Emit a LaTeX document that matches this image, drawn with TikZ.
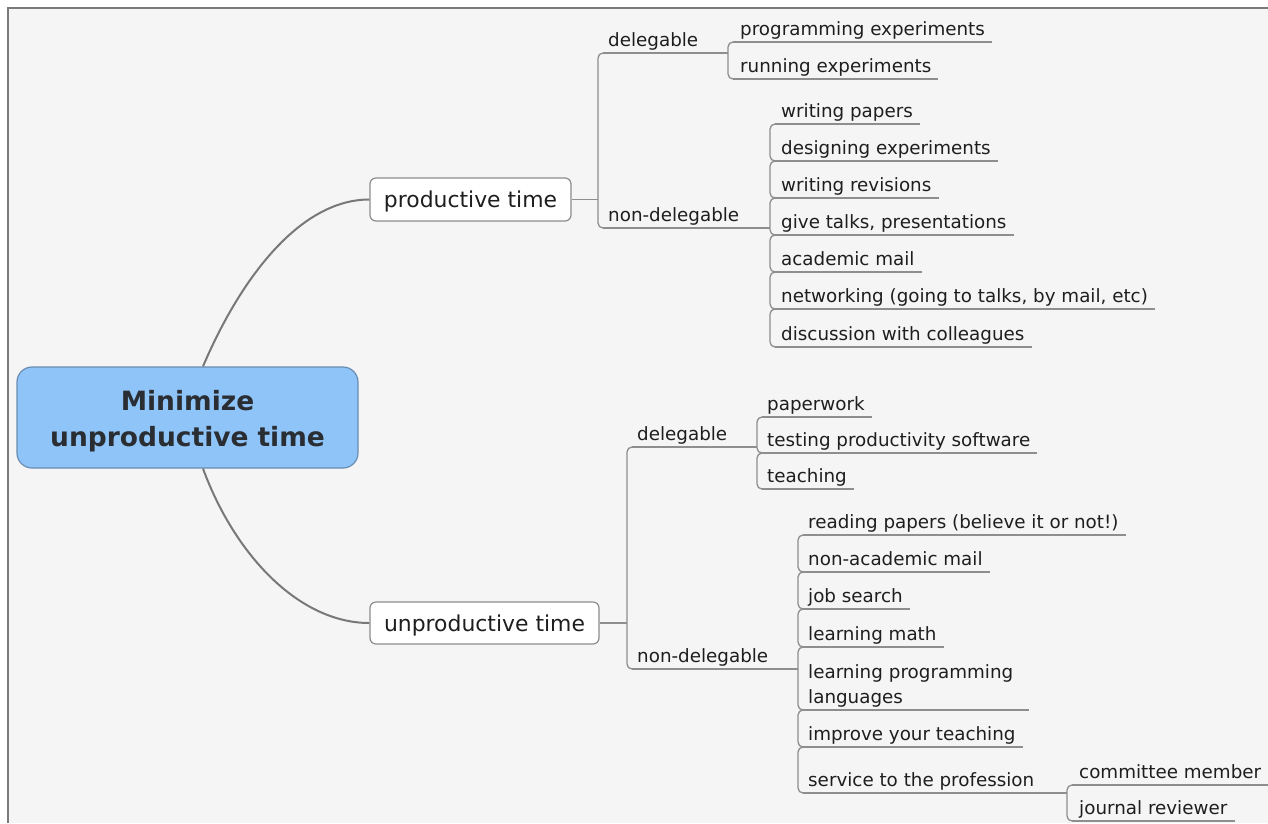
\documentclass[tikz,border=0pt]{standalone}
\usepackage{fontspec}
\setmainfont{DejaVu Sans}
\usetikzlibrary{calc}
\definecolor{bgc}{HTML}{F5F5F5}
\definecolor{framec}{HTML}{7A7A7A}
\definecolor{linec}{HTML}{8E8E8E}
\definecolor{curvec}{HTML}{787878}
\definecolor{txt}{HTML}{1E1E1E}
\definecolor{roottxt}{HTML}{2A2E33}
\definecolor{rootfill}{RGB}{143,196,249}
\definecolor{rootdraw}{RGB}{105,140,178}
\definecolor{boxdraw}{HTML}{8C8C8C}
\newcommand\mmbr[2]{\foreach \ma/\mb in {#2}{\draw[conn,rounded corners=5pt] ($(#1 |- \ma.south)+(7,0)$) -- (#1 |- \ma.south) -- (#1 |- \mb.south) -- ($(#1 |- \mb.south)+(7,0)$);}}
\newcommand\mmul[2]{\foreach \ma in {#2}{\draw[conn] ($(#1 |- \ma.south)+(5,0)$) -- ($(\ma.south east)+(7,0)$);}}
\newcommand\mmpl[3]{\draw[conn] ($(#1 |- #3.south)+(5,0)$) -- (#2 |- #3.south);}
\begin{document}
\begin{tikzpicture}[x=1pt,y=-1pt,
  leaf/.style={anchor=south west, inner sep=0pt, text=txt, font=\fontsize{18.3pt}{22pt}\selectfont, text height=14pt, text depth=6.5pt},
  topic/.style={draw=boxdraw, line width=1.2pt, fill=white, rounded corners=6pt, text=txt, font=\fontsize{21.9pt}{26pt}\selectfont, inner sep=0pt, text height=16pt, text depth=0pt},
  rootbox/.style={draw=rootdraw, fill=rootfill, line width=1.2pt, rounded corners=15pt, minimum width=341pt, minimum height=101pt, inner sep=0pt, text width=341pt, align=center, text=roottxt, font=\bfseries\fontsize{26.5pt}{36pt}\selectfont, text height=20pt, text depth=35pt},
  conn/.style={draw=linec, line width=1.3pt},
  curve/.style={draw=curvec, line width=2pt},
]
\useasboundingbox (0,0) rectangle (1268,823);
\fill[bgc] (8,8) rectangle (1268,823);
\draw[framec, line width=1.5pt] (8,823) -- (8,8) -- (1268,8);

% vertical guide coordinates
\coordinate (vP) at (598,0);
\coordinate (vPD) at (728,0);
\coordinate (vPN) at (770,0);
\coordinate (vU) at (627,0);
\coordinate (vUD) at (757,0);
\coordinate (vUN) at (798,0);
\coordinate (vS) at (1067,0);

% central and main topics
\node[rootbox] (root) at (187.5,417.5) {Minimize\\unproductive time};
\node[topic, minimum width=201pt, minimum height=43pt] (pt) at (470.5,199.5) {productive time};
\node[topic, minimum width=229pt, minimum height=42pt] (ut) at (484.5,623) {unproductive time};

% productive branch
\node[leaf] (pd) at (608,53) {delegable};
\node[leaf] (pn) at (608,228) {non-delegable};
\node[leaf] (pe) at (740,42) {programming experiments};
\node[leaf] (re) at (740,79) {running experiments};
\node[leaf] (wp) at (781,124) {writing papers};
\node[leaf] (de) at (781,161) {designing experiments};
\node[leaf] (wr) at (781,198) {writing revisions};
\node[leaf] (gt) at (781,235) {give talks, presentations};
\node[leaf] (am) at (781,272) {academic mail};
\node[leaf] (nw) at (781,309) {networking (going to talks, by mail, etc)};
\node[leaf] (dc) at (781,347) {discussion with colleagues};

% unproductive branch
\node[leaf] (ud) at (637,447) {delegable};
\node[leaf] (un) at (637,669) {non-delegable};
\node[leaf] (pw) at (767,417) {paperwork};
\node[leaf] (tp) at (767,453) {testing productivity software};
\node[leaf] (te) at (767,489) {teaching};
\node[leaf] (rp) at (808,535) {reading papers (believe it or not!)};
\node[leaf] (na) at (808,572) {non-academic mail};
\node[leaf] (js) at (808,609) {job search};
\node[leaf] (lm) at (808,647) {learning math};
\node[leaf, text width=214pt, align=left, font=\fontsize{18.3pt}{25pt}\selectfont, text depth=31.5pt] (lp) at (808,710) {learning programming\\languages};
\node[leaf] (iy) at (808,747) {improve your teaching};
\node[leaf] (sp) at (808,793) {service to the profession};
\node[leaf] (cm) at (1079,785) {committee member};
\node[leaf] (jr) at (1079,821) {journal reviewer};

% curves from the central topic
\draw[curve] ($(root.north)+(15.5,0)$) .. controls +(37,-87) and +(-70,0) .. (pt.west);
\draw[curve] ($(root.south)+(15.5,0)$) .. controls +(32,87) and +(-70,0) .. (ut.west);

% topic to bracket
\draw[conn] (pt.east) -- (vP |- pt.east);
\draw[conn] (ut.east) -- (vU |- ut.east);

% brackets
\mmbr{vP}{pd/pn}
\mmbr{vPD}{pe/re}
\mmbr{vPN}{wp/de,de/wr,wr/gt,gt/am,am/nw,nw/dc}
\mmbr{vU}{ud/un}
\mmbr{vUD}{pw/tp,tp/te}
\mmbr{vUN}{rp/na,na/js,js/lm,lm/lp,lp/iy,iy/sp}
\mmbr{vS}{cm/jr}

% parent underlines
\mmpl{vP}{vPD}{pd}
\mmpl{vP}{vPN}{pn}
\mmpl{vU}{vUD}{ud}
\mmpl{vU}{vUN}{un}
\mmpl{vUN}{vS}{sp}

% leaf underlines
\mmul{vPD}{pe,re}
\mmul{vPN}{wp,de,wr,gt,am,nw,dc}
\mmul{vUD}{pw,tp,te}
\mmul{vUN}{rp,na,js,lm,lp,iy}
\mmul{vS}{cm,jr}
\end{tikzpicture}
\end{document}
